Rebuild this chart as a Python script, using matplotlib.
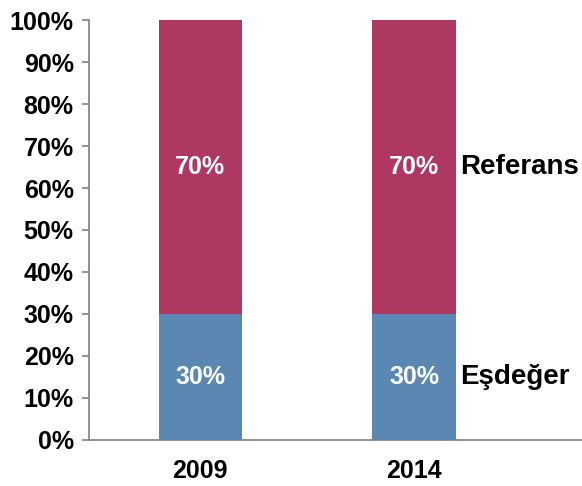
import matplotlib.pyplot as plt
from matplotlib.ticker import PercentFormatter

plt.rcParams['font.family'] = ['Liberation Sans', 'DejaVu Sans']
plt.rcParams['font.weight'] = 'bold'

years = ['2009', '2014']
esdeger = [30, 30]
referans = [70, 70]
series_names = ['Eşdeğer', 'Referans']

c_blue = '#5B88B2'
c_red = '#AF3862'

fig = plt.figure(figsize=(5.82, 4.86), dpi=100)
ax = fig.add_axes([0.1529, 0.0947, 0.8471, 0.8641])

x = range(len(years))
ax.bar(x, esdeger, width=0.39, color=c_blue)
ax.bar(x, referans, width=0.39, bottom=esdeger, color=c_red)

for i in x:
    ax.text(i, esdeger[i] / 2, f'{esdeger[i]}%', color='white', fontsize=18,
            fontweight='bold', ha='center', va='center')
    ax.text(i, esdeger[i] + referans[i] / 2, f'{referans[i]}%', color='white',
            fontsize=18, fontweight='bold', ha='center', va='center')

# series names next to the last bar
last = len(years) - 1
ax.text(last + 0.215, esdeger[last] / 2, series_names[0], fontsize=20,
        fontweight='bold', ha='left', va='center')
ax.text(last + 0.215, esdeger[last] + referans[last] / 2, series_names[1],
        fontsize=20, fontweight='bold', ha='left', va='center')

ax.set_xlim(-0.52, 1.785)
ax.set_ylim(0, 100)
ax.set_yticks(range(0, 101, 10))
ax.yaxis.set_major_formatter(PercentFormatter(decimals=0))
ax.set_xticks(list(x))
ax.set_xticklabels(years)
ax.tick_params(axis='y', labelsize=18, length=5, color='#808080', width=1.2, pad=6)
ax.tick_params(axis='x', labelsize=18, length=0, pad=14)

for s in ['top', 'right']:
    ax.spines[s].set_visible(False)
for s in ['left', 'bottom']:
    ax.spines[s].set_color('#808080')
    ax.spines[s].set_linewidth(1.2)

plt.savefig('out.png', dpi=100)
